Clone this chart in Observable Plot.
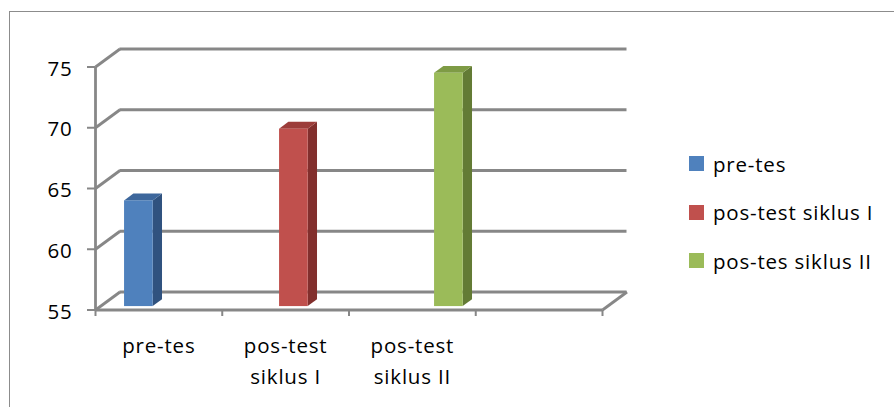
<!DOCTYPE html>
<html>
<head>
<meta charset="utf-8">
<script src="https://cdn.jsdelivr.net/npm/d3@7"></script>
<script src="https://cdn.jsdelivr.net/npm/@observablehq/plot@0.6"></script>
<style>
  html, body { margin: 0; padding: 0; background: #fff; }
  #wrap { position: relative; width: 894px; height: 407px; overflow: hidden; background: #fff; }
  #frame { position: absolute; left: 9px; top: 11px; width: 1000px; height: 600px; border: 1px solid #8c8c8c; box-sizing: border-box; }
  #chart { position: absolute; left: 0; top: 0; }
  #legend { position: absolute; left: 0; top: 0; font-family: 'Open Sans', sans-serif; font-size: 20.5px; letter-spacing: 0.8px; color: #000; }
  .row { position: absolute; left: 689px; height: 26px; display: flex; align-items: center; white-space: nowrap; }
  .sw { width: 15px; height: 15px; margin-right: 9px; flex: none; }
</style>
</head>
<body>
<div id="wrap">
  <div id="frame"></div>
  <div id="chart"></div>
  <div id="legend"></div>
</div>
<script>
// ---- data ----
const categories = ["pre-tes", "pos-test siklus I", "pos-test siklus II", ""];
const seriesNames = ["pre-tes", "pos-test siklus I", "pos-tes siklus II"];
const preTes = [63.7, null, null, null];
const posTestSiklusI = [null, 69.6, null, null];
const posTesSiklusII = [null, null, 74.2, null];
const yTicks = [55, 60, 65, 70, 75];

// ---- styles / layout ----
const frontColors = ["#4F81BD", "#C0504D", "#9BBB59"];
const sideColors  = ["#30527f", "#822f2d", "#637b35"];
const topColors   = ["#3d679c", "#9c3d3a", "#7e9b45"];
const gridColor = "#878787";
const W = 894, H = 407;
const ml = 95, mr = 292, mt = 66.5, mb = 97.5;
const yMin = 55, yMax = 75;
const nCat = categories.length;
const kx = nCat / (W - ml - mr);          // data units per pixel (x)
const ky = (yMax - yMin) / (H - mt - mb); // data units per pixel (y)
const DX = 24.5 * kx, DY = 18 * ky;       // depth projection
const C0 = 0.1925, SLOT = 0.2229, BW = 0.226;
const D0 = 0.19, D1 = 0.57;

const series = [preTes, posTestSiklusI, posTesSiklusII];
const bars = [];
series.forEach((vals, s) => vals.forEach((v, i) => { if (v != null) bars.push({s, i, v}); }));

const front = bars.map(b => {
  const x1 = b.i + C0 + b.s * SLOT, x2 = x1 + BW;
  return {s: b.s, x1: x1 + D0 * DX, x2: x2 + D0 * DX, y1: yMin + D0 * DY, y2: b.v + D0 * DY};
});
const side = bars.flatMap(b => {
  const x2 = b.i + C0 + b.s * SLOT + BW;
  return [D0, D1].map(d => ({s: b.s, x: x2 + d * DX, y1: yMin + d * DY, y2: b.v + d * DY}));
});
const topF = bars.flatMap(b => {
  const x1 = b.i + C0 + b.s * SLOT, x2 = x1 + BW;
  return [D0, D1].map(d => ({s: b.s, y: b.v + d * DY, x1: x1 + d * DX, x2: x2 + d * DX}));
});

const wrapLabel = c => c.replace(" ", "\n");
const catLabels = categories.map((c, i) => ({i, label: wrapLabel(c)}));
const xTickPos = d3.range(nCat + 1);

const chart = Plot.plot({
  width: W, height: H,
  marginLeft: ml, marginRight: mr, marginTop: mt, marginBottom: mb,
  x: {type: "linear", domain: [0, nCat], axis: null},
  y: {type: "linear", domain: [yMin, yMax], axis: null},
  style: {fontFamily: "'Open Sans', sans-serif", fontSize: "20.5px", letterSpacing: "0.8px", background: "transparent", overflow: "visible", color: "#000"},
  marks: [
    // back wall gridlines
    Plot.ruleY(yTicks, {y: d => d + DY, x1: DX, x2: nCat + DX, stroke: gridColor, strokeWidth: 2.8}),
    // side wall diagonals
    Plot.link(yTicks, {x1: 0, y1: d => d, x2: DX, y2: d => d + DY, stroke: gridColor, strokeWidth: 2.8}),
    // floor right edge
    Plot.link([yMin], {x1: nCat, y1: d => d, x2: nCat + DX, y2: d => d + DY, stroke: gridColor, strokeWidth: 2.8}),
    // front axes
    Plot.ruleX([0], {y1: yMin, y2: yMax, stroke: gridColor, strokeWidth: 2.8}),
    Plot.ruleY([yMin], {x1: 0, x2: nCat, stroke: gridColor, strokeWidth: 2.8}),
    // y ticks
    Plot.ruleY(yTicks, {y: d => d, x1: -8 * kx, x2: 0, stroke: gridColor, strokeWidth: 2}),
    // x ticks
    Plot.ruleX(xTickPos, {x: d => d, y1: yMin, y2: yMin - 6.5 * ky, stroke: gridColor, strokeWidth: 2}),
    // bars: side, top, front
    Plot.areaY(side, {x: "x", y1: "y1", y2: "y2", z: "s", fill: d => sideColors[d.s]}),
    Plot.areaX(topF, {y: "y", x1: "x1", x2: "x2", z: "s", fill: d => topColors[d.s]}),
    Plot.rect(front, {x1: "x1", x2: "x2", y1: "y1", y2: "y2", fill: d => frontColors[d.s]}),
    // y tick labels
    Plot.text(yTicks, {x: 0, y: d => d, text: d => String(d), textAnchor: "end", dx: -23, dy: 2, fill: "#000"}),
    // category labels
    Plot.text(catLabels, {x: d => d.i + 0.5, y: yMin, text: "label", lineAnchor: "top", dy: 21, lineHeight: 1.5, fill: "#000"})
  ]
});
document.getElementById("chart").appendChild(chart);

// legend
const legend = document.getElementById("legend");
seriesNames.forEach((name, k) => {
  const row = document.createElement("div");
  row.className = "row";
  row.style.top = (163.5 + k * 48.5 - 13) + "px";
  const sw = document.createElement("span");
  sw.className = "sw";
  sw.style.background = frontColors[k];
  const t = document.createElement("span");
  t.textContent = name;
  row.appendChild(sw); row.appendChild(t);
  legend.appendChild(row);
});
</script>
</body>
</html>
